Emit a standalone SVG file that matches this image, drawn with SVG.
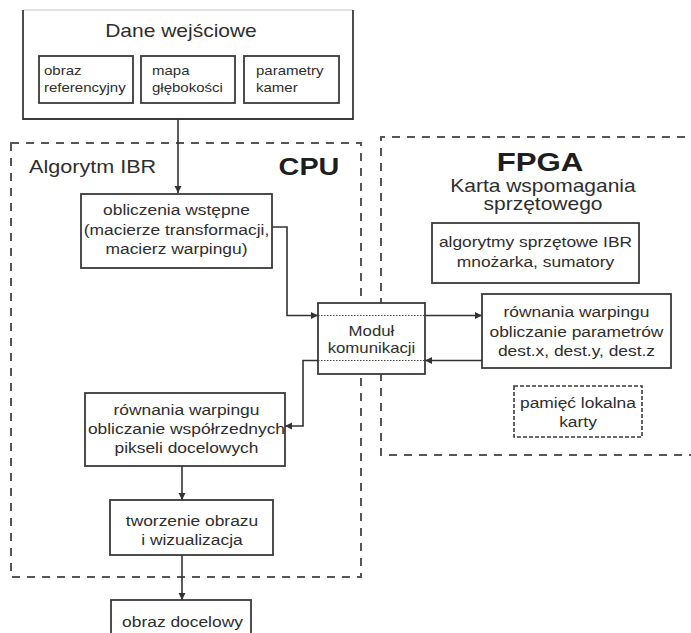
<svg xmlns="http://www.w3.org/2000/svg" width="691" height="633" viewBox="0 0 691 633">
<style>
  text { font-family: "Liberation Sans", Arial, Helvetica, sans-serif; fill: #2e2e2e; text-anchor: middle; transform-box: fill-box; transform-origin: center; transform: scaleX(1.2); }
  text.l { text-anchor: start; transform-origin: left center; }
  .t1 { font-size: 17.5px; }
  .big { font-size: 24px; font-weight: bold; fill: #1e1e1e; }
  .sm { font-size: 12.5px; }
  .md { font-size: 14.5px; }
  .box { fill: #ffffff; stroke: #3a3a3a; stroke-width: 1.8; }
  .region { fill: none; stroke: #555; stroke-width: 2; stroke-dasharray: 8 7; }
  .dbox { fill: #ffffff; stroke: #3a3a3a; stroke-width: 1.6; stroke-dasharray: 4 2; }
  .conn { fill: none; stroke: #333; stroke-width: 1.6; }
  .dot { fill: none; stroke: #444; stroke-width: 1.2; stroke-dasharray: 1.5 1.5; }
</style>
<defs>
  <marker id="arr" markerUnits="userSpaceOnUse" markerWidth="8" markerHeight="8" refX="7" refY="3.5" orient="auto">
    <path d="M0,0 L7,3.5 L0,7 z" fill="#333"/>
  </marker>
</defs>
<rect width="691" height="633" fill="#ffffff"/>

<g id="region-cpu">
  <rect class="region" x="11" y="143" width="350" height="434"/>
  <text class="t1 l" x="29" y="173" style="font-size:18px">Algorytm IBR</text>
  <text class="big" x="309" y="175">CPU</text>
</g>

<g id="region-fpga">
  <path class="region" d="M700,137 L381,137 L381,455 L700,455"/>
  <text class="big" x="540" y="171" style="font-size:26px">FPGA</text>
  <text class="t1" x="543" y="192">Karta wspomagania</text>
  <text class="t1" x="543" y="210">sprzętowego</text>
</g>

<g id="dane-wejsciowe">
  <rect x="23" y="10" width="330" height="109" fill="#ffffff" stroke="none"/>
  <path d="M23,10 L353,10" stroke="#d8d8d8" stroke-width="1.5" fill="none"/>
  <path d="M23,10 L23,119 L353,119 L353,10" stroke="#3a3a3a" stroke-width="1.8" fill="none"/>
  <text class="t1" x="181" y="37">Dane wejściowe</text>
  <g id="obraz-referencyjny">
    <rect class="box" x="39" y="56" width="94" height="47"/>
    <text class="sm l" x="44" y="75">obraz</text>
    <text class="sm l" x="44" y="92">referencyjny</text>
  </g>
  <g id="mapa-glebokosci">
    <rect class="box" x="141" y="56" width="94" height="47"/>
    <text class="sm l" x="152" y="75">mapa</text>
    <text class="sm l" x="152" y="92">głębokości</text>
  </g>
  <g id="parametry-kamer">
    <rect class="box" x="244" y="56" width="95" height="47"/>
    <text class="sm l" x="256" y="75">parametry</text>
    <text class="sm l" x="256" y="92">kamer</text>
  </g>
</g>

<g id="obliczenia-wstepne">
  <rect class="box" x="81" y="194" width="191" height="74"/>
  <text class="md" x="176.5" y="215">obliczenia wstępne</text>
  <text class="md" x="176.5" y="235">(macierze transformacji,</text>
  <text class="md" x="176.5" y="254">macierz warpingu)</text>
</g>

<g id="modul-komunikacji">
  <rect class="box" x="318" y="303" width="107" height="71"/>
  <text class="md" x="371.5" y="336" style="font-size:14px">Moduł</text>
  <text class="md" x="371.5" y="353" style="font-size:14px">komunikacji</text>
</g>

<g id="rownania-fpga">
  <rect class="box" x="482" y="294" width="189" height="74"/>
  <text class="md" x="576.5" y="317">równania warpingu</text>
  <text class="md" x="576.5" y="337">obliczanie parametrów</text>
  <text class="md" x="576.5" y="356">dest.x, dest.y, dest.z</text>
</g>

<g id="algorytmy-sprzetowe">
  <rect class="box" x="432" y="223" width="207" height="60"/>
  <text class="md" x="535.5" y="247">algorytmy sprzętowe IBR</text>
  <text class="md" x="535.5" y="267">mnożarka, sumatory</text>
</g>

<g id="pamiec-lokalna">
  <rect class="dbox" x="514" y="386" width="128" height="51"/>
  <text class="md" x="578" y="408">pamięć lokalna</text>
  <text class="md" x="578" y="427">karty</text>
</g>

<g id="rownania-cpu">
  <rect class="box" x="85" y="393" width="200" height="73"/>
  <text class="md" x="186.5" y="415">równania warpingu</text>
  <text class="md" x="186.5" y="434">obliczanie współrzednych</text>
  <text class="md" x="186.5" y="453">pikseli docelowych</text>
</g>

<g id="tworzenie-obrazu">
  <rect class="box" x="110" y="500" width="163" height="55"/>
  <text class="md" x="192" y="526">tworzenie obrazu</text>
  <text class="md" x="192" y="545">i wizualizacja</text>
</g>

<g id="obraz-docelowy">
  <rect class="box" x="111" y="600" width="140" height="45"/>
  <text class="md" x="182.5" y="627">obraz docelowy</text>
</g>

<g id="connectors">
  <path class="conn" d="M178,119 L178,193" marker-end="url(#arr)"/>
  <path class="conn" d="M272,227 L287,227 L287,315.5 L318,315.5" marker-end="url(#arr)"/>
  <path class="dot" d="M318,315.5 L425,315.5"/>
  <path class="conn" d="M425,315.5 L482,315.5" marker-end="url(#arr)"/>
  <path class="conn" d="M482,360.5 L425,360.5" marker-end="url(#arr)"/>
  <path class="dot" d="M318,360.5 L425,360.5"/>
  <path class="conn" d="M318,360.5 L303,360.5 L303,426 L285,426" marker-end="url(#arr)"/>
  <path class="conn" d="M182,466 L182,500" marker-end="url(#arr)"/>
  <path class="conn" d="M182,555 L182,600" marker-end="url(#arr)"/>
</g>
</svg>
